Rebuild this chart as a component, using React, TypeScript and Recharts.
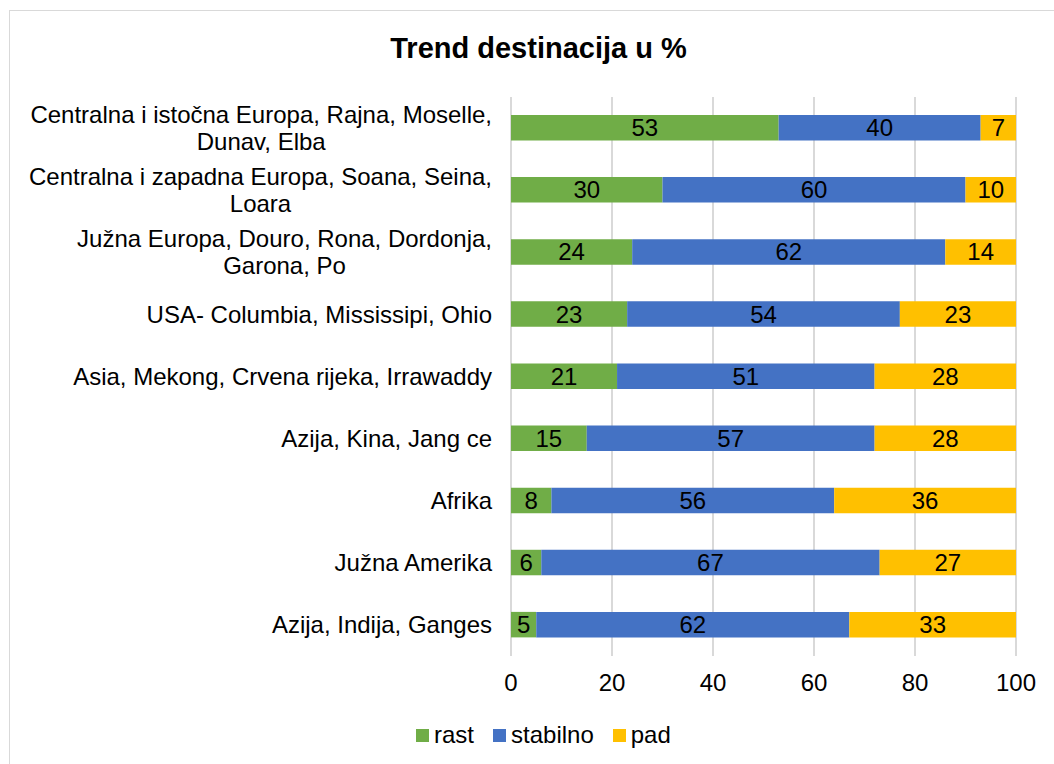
import React from 'react';
import { BarChart, Bar, XAxis, YAxis, CartesianGrid, LabelList } from 'recharts';

// categories, top to bottom (\n = line break in the label)
const categories = [
  'Centralna i istočna Europa, Rajna, Moselle,\nDunav, Elba',
  'Centralna i zapadna Europa, Soana, Seina,\nLoara',
  'Južna Europa, Douro, Rona, Dordonja,\nGarona, Po',
  'USA- Columbia, Mississipi, Ohio',
  'Asia, Mekong, Crvena rijeka, Irrawaddy',
  'Azija, Kina, Jang ce',
  'Afrika',
  'Južna Amerika',
  'Azija, Indija, Ganges',
];
const rast = [53, 30, 24, 23, 21, 15, 8, 6, 5];
const stabilno = [40, 60, 62, 54, 51, 57, 56, 67, 62];
const pad = [7, 10, 14, 23, 28, 28, 36, 27, 33];
const xTicks = [0, 20, 40, 60, 80, 100];

const series = [
  { key: 'rast', color: '#70AD47' },
  { key: 'stabilno', color: '#4472C4' },
  { key: 'pad', color: '#FFC000' },
];

const data = categories.map((name, i) => ({
  name,
  rast: rast[i],
  stabilno: stabilno[i],
  pad: pad[i],
}));

const FONT = '"Liberation Sans", Arial, sans-serif';
const FS = 24;

let ctx: CanvasRenderingContext2D | null = null;
const textWidth = (s: string) => {
  if (!ctx) ctx = document.createElement('canvas').getContext('2d');
  if (!ctx) return s.length * FS * 0.5;
  ctx.font = `${FS}px ${FONT}`;
  return ctx.measureText(s).width;
};

// wrapped labels: block is right aligned, lines centred inside it (like Excel)
const CategoryTick = (props: any) => {
  const { x, y, payload } = props;
  const lines = String(payload.value).split('\n');
  const lh = 27;
  const right = x - 11;
  const start = y - ((lines.length - 1) * lh) / 2 + 8.5;
  if (lines.length === 1) {
    return (
      <text x={right} y={start} textAnchor="end" fontSize={FS} fill="#000" fontFamily={FONT}>
        {lines[0]}
      </text>
    );
  }
  const w = Math.max(...lines.map(textWidth));
  const cx = right - w / 2;
  return (
    <text x={cx} y={start} textAnchor="middle" fontSize={FS} fill="#000" fontFamily={FONT}>
      {lines.map((l, i) => (
        <tspan key={i} x={cx} y={start + i * lh}>
          {l}
        </tspan>
      ))}
    </text>
  );
};

export default function App() {
  return (
    <div
      style={{
        position: 'absolute',
        left: 0,
        top: 0,
        width: 1054,
        height: 764,
        overflow: 'hidden',
        background: '#fff',
        fontFamily: FONT,
      }}
    >
      <div
        style={{
          position: 'absolute',
          left: 9,
          top: 10,
          width: 1100,
          height: 800,
          border: '1.5px solid #D9D9D9',
        }}
      />
      <div
        style={{
          position: 'absolute',
          left: 0,
          top: 34,
          width: 1077,
          textAlign: 'center',
          fontSize: 29,
          lineHeight: '29px',
          fontWeight: 'bold',
          color: '#000',
        }}
      >
        Trend destinacija u %
      </div>
      <div style={{ position: 'absolute', left: 0, top: 0 }}>
        <BarChart
          width={1054}
          height={764}
          data={data}
          layout="vertical"
          margin={{ top: 97, right: 38, bottom: 68, left: 0 }}
          barSize={25.5}
        >
          <CartesianGrid horizontal={false} stroke="#D9D9D9" strokeWidth={2} />
          <XAxis
            type="number"
            domain={[0, 100]}
            ticks={xTicks}
            axisLine={false}
            tickLine={false}
            tickMargin={12}
            height={40}
            tick={{ fontSize: FS, fill: '#000', fontFamily: FONT }}
            interval={0}
          />
          <YAxis
            type="category"
            dataKey="name"
            width={511}
            axisLine={false}
            tickLine={false}
            interval={0}
            tick={<CategoryTick />}
          />
          {series.map((s) => (
            <Bar key={s.key} dataKey={s.key} stackId="a" fill={s.color} isAnimationActive={false}>
              <LabelList
                dataKey={s.key}
                position="center"
                fill="#000"
                fontSize={FS}
                fontFamily={FONT}
              />
            </Bar>
          ))}
        </BarChart>
      </div>
      <div
        style={{
          position: 'absolute',
          left: 416,
          top: 723,
          display: 'flex',
          alignItems: 'center',
          fontSize: FS,
          lineHeight: '24px',
          color: '#000',
        }}
      >
        {series.map((s) => (
          <div key={s.key} style={{ display: 'flex', alignItems: 'center', marginRight: 19 }}>
            <span style={{ width: 13, height: 13, background: s.color, marginRight: 5, display: 'inline-block' }} />
            <span>{s.key}</span>
          </div>
        ))}
      </div>
    </div>
  );
}
